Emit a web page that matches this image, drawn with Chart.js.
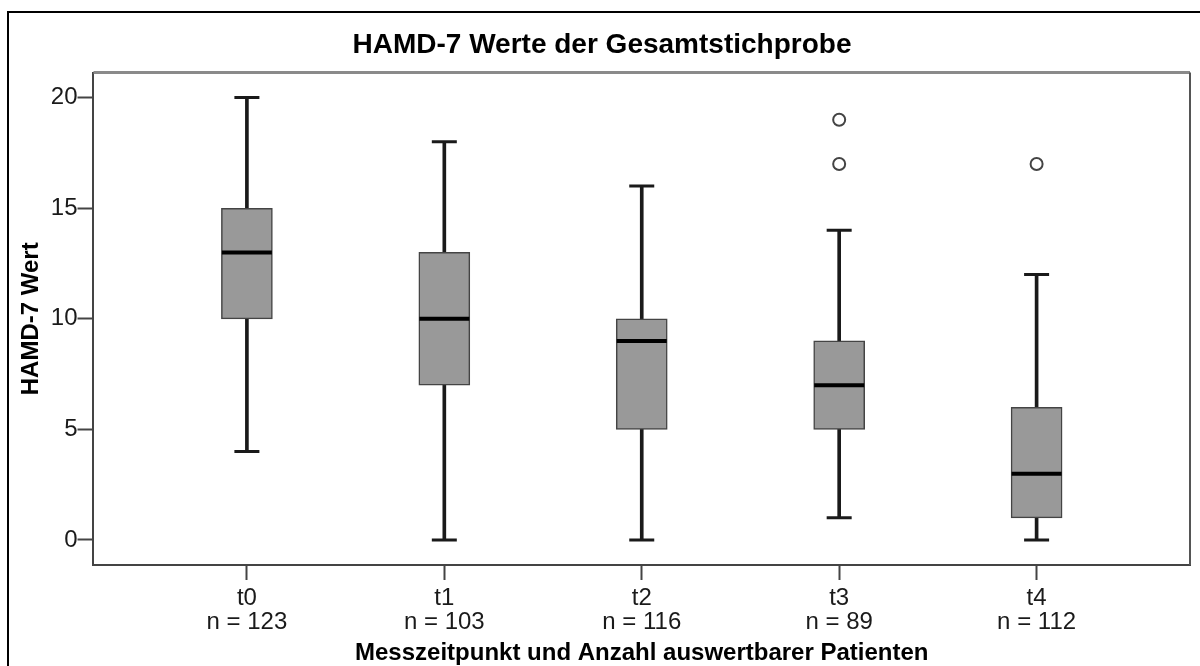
<!DOCTYPE html>
<html>
<head>
<meta charset="utf-8">
<script src="https://cdn.jsdelivr.net/npm/chart.js@4.4.1/dist/chart.umd.min.js"></script>
<style>
  html, body { margin: 0; padding: 0; background: #fff; overflow: hidden; }
  .frame { position: absolute; left: 7px; top: 11px; width: 1300px; height: 800px; border-left: 2px solid #000; border-top: 2px solid #000; }
  .wrap { position: absolute; left: 0; top: 0; width: 1200px; height: 666px; }
</style>
</head>
<body>
<div class="frame"></div>
<div class="wrap"><canvas id="chart" width="1200" height="666"></canvas></div>
<script>
const categories = ["t0", "t1", "t2", "t3", "t4"];
const counts = [123, 103, 116, 89, 112];
const whiskerLow = [4, 0, 0, 1, 0];
const q1 = [10, 7, 5, 5, 1];
const median = [13, 10, 9, 7, 3];
const q3 = [15, 13, 10, 9, 6];
const whiskerHigh = [20, 18, 16, 14, 12];
const outliers = [[], [], [], [17, 19], [17]];
const yTicks = [0, 5, 10, 15, 20];

const FONT = "'Liberation Sans', Arial, sans-serif";
const ctx = document.getElementById("chart").getContext("2d");

const pts = (arr) => arr.map((v, i) => ({ x: i, y: v }));
const outlierPts = [];
outliers.forEach((list, i) => list.forEach(v => outlierPts.push({ x: i, y: v })));

// top + right edge of the plot frame
const plotFrame = {
    id: "plotFrame",
    afterDraw(chart) {
        const a = chart.chartArea;
        const c = chart.ctx;
        c.save();
        c.lineWidth = 3;
        c.strokeStyle = "#8a8a8a";
        c.beginPath();
        c.moveTo(a.left, a.top);
        c.lineTo(a.right, a.top);
        c.stroke();
        c.lineWidth = 2;
        c.strokeStyle = "#555";
        c.beginPath();
        c.moveTo(a.right, a.top);
        c.lineTo(a.right, a.bottom);
        c.stroke();
        c.restore();
    }
};

new Chart(ctx, {
    type: "bar",
    data: {
        datasets: [
            {
                label: "Median",
                type: "scatter",
                data: pts(median),
                pointStyle: "line",
                radius: 25,
                hoverRadius: 25,
                borderWidth: 4,
                borderColor: "#000",
                order: 0
            },
            {
                label: "Box",
                data: q1.map((v, i) => ({ x: i, y: [v, q3[i]] })),
                backgroundColor: "#999999",
                borderColor: "#444",
                borderWidth: 1.5,
                borderSkipped: false,
                barThickness: 51,
                grouped: false,
                order: 1
            },
            {
                label: "Whisker",
                data: whiskerLow.map((v, i) => ({ x: i, y: [v, whiskerHigh[i]] })),
                backgroundColor: "#1a1a1a",
                borderWidth: 0,
                barThickness: 3,
                grouped: false,
                order: 3
            },
            {
                label: "Caps",
                type: "scatter",
                data: pts(whiskerLow).concat(pts(whiskerHigh)),
                pointStyle: "line",
                radius: 12.5,
                hoverRadius: 12.5,
                borderWidth: 3,
                borderColor: "#1a1a1a",
                order: 2
            },
            {
                label: "Ausreißer",
                type: "scatter",
                data: outlierPts,
                pointStyle: "circle",
                radius: 6,
                hoverRadius: 6,
                borderWidth: 2,
                borderColor: "#444",
                backgroundColor: "#fff",
                order: 0
            }
        ]
    },
    options: {
        responsive: false,
        animation: false,
        events: [],
        layout: { autoPadding: false, padding: { left: 14, right: 10, top: 0, bottom: 0 } },
        plugins: {
            legend: { display: false },
            tooltip: { enabled: false },
            title: {
                display: true,
                text: "HAMD-7 Werte der Gesamtstichprobe",
                color: "#000",
                font: { family: FONT, size: 28, weight: "bold", lineHeight: 1.2 },
                padding: { top: 28, bottom: 11 }
            }
        },
        scales: {
            x: {
                type: "linear",
                min: -0.777,
                max: 4.777,
                offset: false,
                afterBuildTicks: (scale) => { scale.ticks = categories.map((c, i) => ({ value: i })); },
                afterFit: (scale) => { scale.paddingLeft = 0; scale.paddingRight = 0; },
                ticks: {
                    autoSkip: false,
                    maxRotation: 0,
                    padding: 6,
                    color: "#1a1a1a",
                    font: { family: FONT, size: 24, lineHeight: 1 },
                    callback: (v) => [categories[v], "n = " + counts[v]]
                },
                grid: { drawOnChartArea: false, offset: false, tickLength: 15, tickWidth: 2, tickColor: "#444" },
                border: { display: true, color: "#444", width: 2 },
                title: {
                    display: true,
                    text: "Messzeitpunkt und Anzahl auswertbarer Patienten",
                    color: "#000",
                    font: { family: FONT, size: 24, weight: "bold", lineHeight: 1 },
                    padding: { top: 1, bottom: 1 }
                }
            },
            y: {
                min: -1.131,
                max: 21.131,
                afterBuildTicks: (scale) => { scale.ticks = yTicks.map(v => ({ value: v })); },
                ticks: {
                    padding: 0,
                    color: "#1a1a1a",
                    font: { family: FONT, size: 24 }
                },
                grid: { drawOnChartArea: false, tickLength: 16, tickWidth: 2, tickColor: "#444" },
                border: { display: true, color: "#444", width: 2 },
                title: {
                    display: true,
                    text: "HAMD-7 Wert",
                    color: "#000",
                    font: { family: FONT, size: 24, weight: "bold", lineHeight: 1.2 },
                    padding: { top: 3, bottom: 5 }
                }
            }
        }
    },
    plugins: [plotFrame]
});
</script>
</body>
</html>
